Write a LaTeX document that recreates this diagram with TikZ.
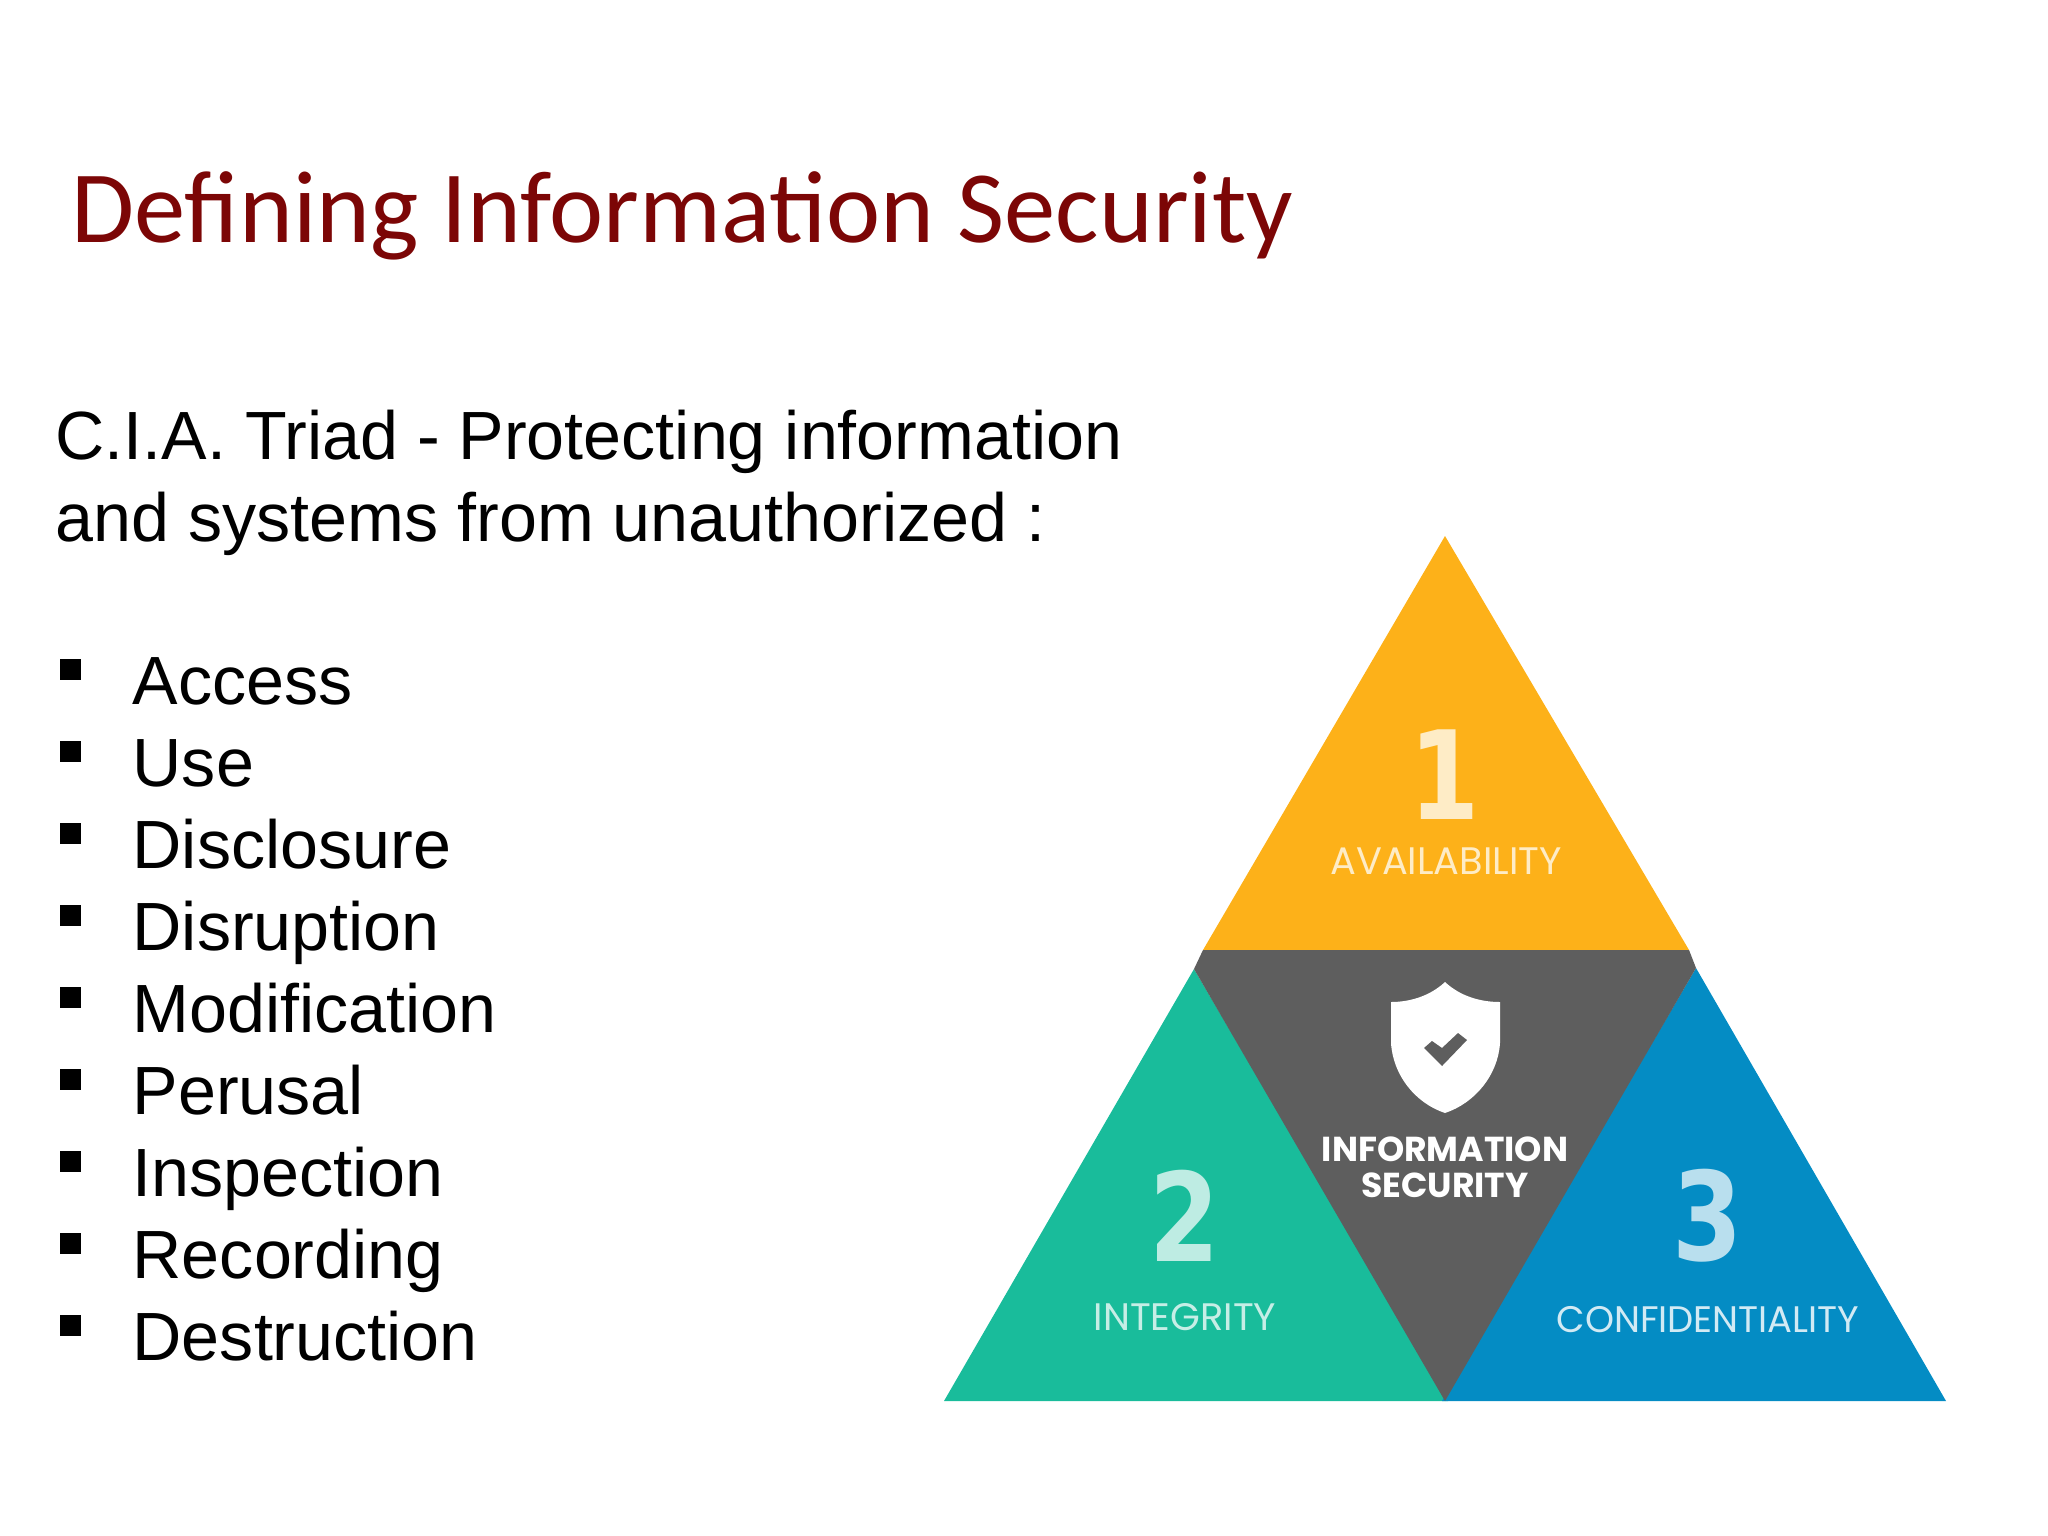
\documentclass[tikz,border=0pt]{standalone}
\usepackage{fontspec}
\setmainfont{Liberation Sans}
\newfontfamily\titlefont{Carlito}
\newfontfamily\labelfont{Poppins}
\newfontfamily\digitfont[FakeStretch=0.82]{DejaVu Sans}
\definecolor{titlered}{HTML}{7C0606}
\definecolor{availyellow}{HTML}{FDB119}
\definecolor{centregrey}{HTML}{5E5E5E}
\definecolor{integgreen}{HTML}{19BC9B}
\definecolor{confblue}{HTML}{048CC4}
\tikzset{
  bodytext/.style={anchor=base west, inner sep=0pt, font=\fontsize{19.4}{24}\selectfont},
  bulletbox/.style={fill=black, inner sep=0pt, minimum size=0.21cm},
  digit/.style={inner sep=0pt, font=\digitfont\bfseries\fontsize{35}{40}\selectfont},
  caption/.style={inner sep=0pt, font=\labelfont\fontsize{10.9}{12}\selectfont},
  centretext/.style={inner sep=0pt, white, font=\labelfont\bfseries\fontsize{9.85}{11}\selectfont}
}
\begin{document}
\begin{tikzpicture}[x=0.01cm,y=-0.01cm]
    \useasboundingbox (0,0) rectangle (2048,1536);

    % Title and intro lines
    \node[anchor=base west, inner sep=0pt, titlered, font=\titlefont\fontsize{29.15}{33}\selectfont]
        (title) at (71,242) {Defining Information Security};
    \node[bodytext] (introa) at (55,459.5) {C.I.A. Triad - Protecting information};
    \node[bodytext] (introb) at (55,541.5) {and systems from unauthorized :};

    % Bullet list
    \foreach \word [count=\i from 0] in {Access,Use,Disclosure,Disruption,Modification,Perusal,Inspection,Recording,Destruction} {
        \node[bodytext] (item\i) at (132,704.5+82*\i) {\word};
        \node[bulletbox] (bullet\i) at (70.5,669.5+82*\i) {};
    }

    % Draw the four triangles
    \fill[availyellow] (1445,536) -- (1689,950) -- (1203,950) -- cycle;
    \fill[integgreen] (1194,969) -- (1448,1401) -- (944,1401) -- cycle;
    \fill[confblue] (1696,968) -- (1946,1401) -- (1442,1401) -- cycle;
    \fill[centregrey] (1203,950) -- (1689,950) -- (1696,968) -- (1445,1401) -- (1194,969) -- cycle;

    % Draw the shield with its check mark
    \fill[white] (1445,982) .. controls (1430,996) and (1410,1002) .. (1391,1002)
        -- (1391,1043) .. controls (1393,1075) and (1415,1103) .. (1445,1113)
        .. controls (1475,1103) and (1498,1075) .. (1500,1043)
        -- (1500,1002) .. controls (1480,1002) and (1460,996) .. (1445,982) -- cycle;
    \fill[centregrey] (1424,1048) -- (1442,1066) -- (1467,1040) -- (1458,1033) -- (1442,1048) -- (1432,1041) -- cycle;

    % Labels
    \node[digit, text=availyellow!25!white] (one) at (1445,775) {1};
    \node[caption, text=availyellow!25!white] (avail) at (1446,861) {AVAILABILITY};
    \node[digit, text=integgreen!28!white] (two) at (1185,1216) {2};
    \node[caption, text=integgreen!25!white] (integ) at (1185,1317) {INTEGRITY};
    \node[digit, text=confblue!28!white] (three) at (1708,1216) {3};
    \node[caption, text=confblue!18!white, font=\labelfont\fontsize{10.5}{12}\selectfont] (confid) at (1708,1320) {CONFIDENTIALITY};
    \node[centretext] (info) at (1445,1149) {INFORMATION};
    \node[centretext] (secur) at (1445,1185) {SECURITY};
\end{tikzpicture}
\end{document}
